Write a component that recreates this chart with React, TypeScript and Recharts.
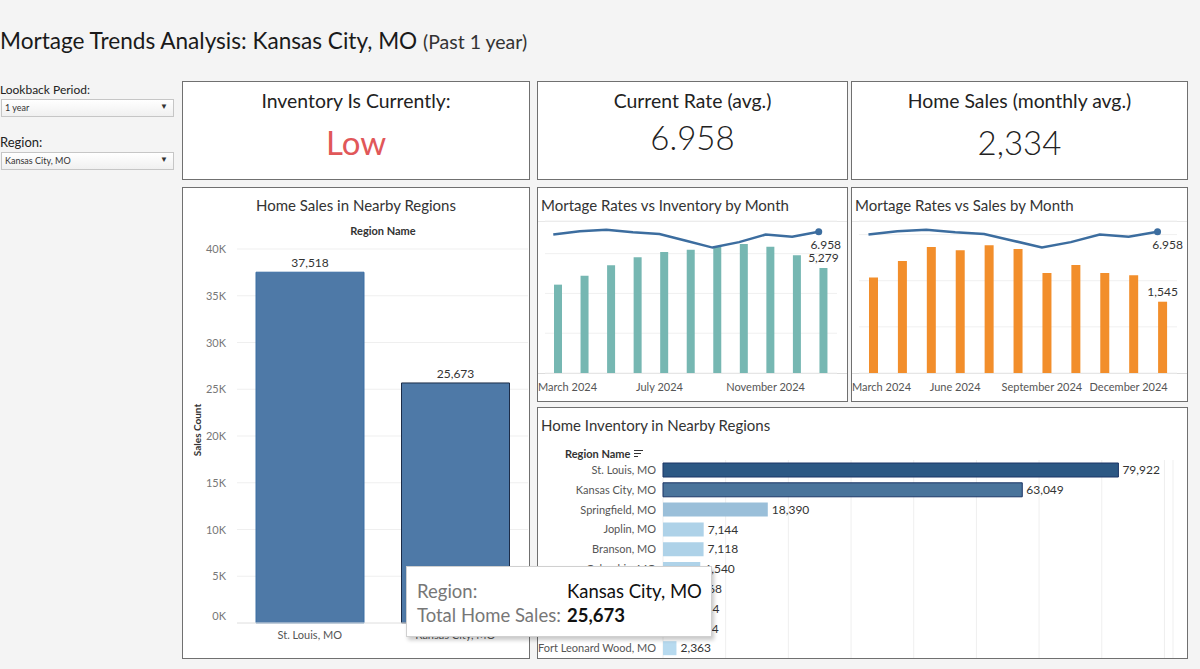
import React from "react";
import {
  Bar,
  BarChart,
  CartesianGrid,
  Cell,
  ComposedChart,
  LabelList,
  Line,
  Tooltip,
  XAxis,
  YAxis,
} from "recharts";

const FONT = "Lato, 'Noto Sans', sans-serif";
const BORDER = "1px solid #707070";

// monthly series, Kansas City, MO
const MONTHS = [
  "March 2024", "April 2024", "May 2024", "June 2024", "July 2024", "August 2024",
  "September 2024", "October 2024", "November 2024", "December 2024", "January 2025",
];
const RATES = [6.82, 6.99, 7.06, 6.93, 6.85, 6.52, 6.18, 6.45, 6.82, 6.72, 6.958];
const INVENTORY = [4441, 4894, 5413, 5815, 6084, 6201, 6335, 6486, 6352, 5916, 5279];
const MONTHLY_SALES = [2070, 2425, 2728, 2662, 2770, 2685, 2165, 2338, 2165, 2120, 1545];

// home sales by region
const SALES_REGIONS = ["St. Louis, MO", "Kansas City, MO"];
const SALES_TOTALS = [37518, 25673];
const SALES_TICKS = [0, 5000, 10000, 15000, 20000, 25000, 30000, 35000, 40000];

// inventory by region
const INV_REGIONS = [
  "St. Louis, MO", "Kansas City, MO", "Springfield, MO", "Joplin, MO", "Branson, MO",
  "Columbia, MO", "Jefferson City, MO", "Cape Girardeau, MO", "Sedalia, MO", "Fort Leonard Wood, MO",
];
const INV_TOTALS = [79922, 63049, 18390, 7144, 7118, 6540, 4268, 3824, 3704, 2363];
const INV_GRID = [11000, 22000, 33000, 44000, 55000, 66000, 77000, 88000];

const fmt = (v: number) => v.toLocaleString("en-US");

function Box({ left, top, width, height, children, z }: any) {
  return (
    <div
      style={{
        position: "absolute", left, top, width, height, background: "#fff",
        border: BORDER, zIndex: z,
      }}
    >
      {children}
    </div>
  );
}

function Kpi({ left, width, title, value, color, valueTop, weight }: any) {
  return (
    <Box left={left} top={81} width={width} height={97}>
      <div style={{ position: "absolute", top: 7, width: "100%", textAlign: "center", fontSize: 19.4, color: "#222" }}>
        {title}
      </div>
      <div style={{ position: "absolute", top: valueTop, width: "100%", textAlign: "center", fontSize: 33, color, fontWeight: weight }}>
        {value}
      </div>
    </Box>
  );
}

function Dropdown({ top, text }: any) {
  return (
    <div
      style={{
        position: "absolute", left: 1, top, width: 171, height: 16, border: "1px solid #c6c6c6",
        background: "linear-gradient(#ffffff, #f0f0f0)", fontSize: 9, color: "#333",
      }}
    >
      <span style={{ position: "absolute", left: 3, top: 2 }}>{text}</span>
      <span style={{ position: "absolute", right: 5, top: 1, fontSize: 8 }}>▼</span>
    </div>
  );
}

const SalesYTick = ({ x, y, payload }: any) => (
  <text x={x} y={payload.value === 0 ? y - 7 : y} dy={4} textAnchor="end" fill="#777" fontSize={11} fontFamily={FONT}>
    {payload.value / 1000}K
  </text>
);

const RegionTick = ({ x, y, payload }: any) => (
  <text x={x} y={y} dy={4} textAnchor="end" fill="#555" fontSize={11} fontFamily={FONT}>
    {payload.value}
  </text>
);

const SalesTip = ({ active, payload }: any) => {
  if (!active || !payload || !payload.length) return null;
  const d = payload[0].payload;
  return (
    <div
      style={{
        width: 304, height: 69, background: "#fff", border: "1px solid #d0d0d0",
        boxShadow: "2px 3px 4px rgba(0,0,0,0.22)", position: "relative", fontFamily: FONT, fontSize: 18.5,
      }}
    >
      <div style={{ position: "absolute", left: 10, top: 13, color: "#777" }}>Region:</div>
      <div style={{ position: "absolute", left: 160, top: 13, color: "#111" }}>{d.region}</div>
      <div style={{ position: "absolute", left: 10, top: 37, color: "#777" }}>Total Home Sales:</div>
      <div style={{ position: "absolute", left: 160, top: 37, color: "#111", fontWeight: 700 }}>{fmt(d.sales)}</div>
    </div>
  );
};

function SalesChart() {
  const data = SALES_REGIONS.map((r, i) => ({ region: r, sales: SALES_TOTALS[i] }));
  return (
    <Box left={182} top={187} width={346} height={470} z={5}>
      <div style={{ position: "absolute", top: 8, left: 0, width: 346, textAlign: "center", fontSize: 15, color: "#333" }}>
        Home Sales in Nearby Regions
      </div>
      <div style={{ position: "absolute", top: 36, left: 200, width: 0, whiteSpace: "nowrap", display: "flex", justifyContent: "center", fontSize: 11, fontWeight: 700, color: "#333" }}>
        Region Name
      </div>
      <div style={{ position: "absolute", left: 14 - 40, top: 243 - 7, width: 80, textAlign: "center", transform: "rotate(-90deg)", fontSize: 10, fontWeight: 700, color: "#333" }}>
        Sales Count
      </div>
      <div style={{ position: "absolute", left: 0, top: 0 }}>
        <BarChart width={346} height={470} data={data} margin={{ top: 61, right: 1, left: 0, bottom: 0 }}>
          <CartesianGrid vertical={false} stroke="#efefef" />
          <XAxis
            dataKey="region" tickLine={false} axisLine={{ stroke: "#e6e6e6" }} height={35}
            tick={{ fontSize: 11, fill: "#555", fontFamily: FONT }} tickMargin={2}
          />
          <YAxis
            domain={[0, 40000]} ticks={SALES_TICKS} width={54} tickLine={false} axisLine={false}
            tick={<SalesYTick />} tickMargin={5}
          />
          <Bar dataKey="sales" barSize={108} isAnimationActive={false}>
            {data.map((d, i) => (
              <Cell key={d.region} fill="#4e79a7" stroke={i === 1 ? "#1c2c48" : "#3b6ea3"} strokeWidth={1} />
            ))}
            <LabelList dataKey="sales" position="top" offset={5} formatter={(v: any) => fmt(v)}
              style={{ fontSize: 12, fill: "#333", fontFamily: FONT }} />
          </Bar>
          <Tooltip
            active defaultIndex={1} cursor={false} position={{ x: 223, y: 378 }}
            allowEscapeViewBox={{ x: true, y: true }} wrapperStyle={{ zIndex: 30 }}
            isAnimationActive={false} content={<SalesTip />}
          />
        </BarChart>
      </div>
    </Box>
  );
}

function MonthChart({ left, width, title, values, color, max, ticks, interval, barSize, rateDx }: any) {
  const data = MONTHS.map((m, i) => ({ month: m, rate: RATES[i], value: values[i] }));
  const last = data.length - 1;
  const MonthTick = ({ x, y, payload }: any) => {
    const first = payload.value === MONTHS[0];
    return (
      <text x={first ? 0 : x - 5} y={y} dy={10} textAnchor={first ? "start" : "middle"} fontSize={11} fill="#555" fontFamily={FONT}>
        {payload.value}
      </text>
    );
  };
  return (
    <Box left={left} top={187} width={width} height={213}>
      <div style={{ position: "absolute", left: 3, top: 8, fontSize: 15, color: "#333", whiteSpace: "nowrap" }}>{title}</div>
      <div style={{ position: "absolute", left: 0, right: 0, top: 33, borderTop: "1px solid #e8e8e8" }} />
      <div style={{ position: "absolute", left: 0, right: 0, top: 185, borderTop: "1px solid #dcdcdc" }} />
      <div style={{ position: "absolute", left: 0, top: 0 }}>
        <ComposedChart width={width} height={213} data={data} margin={{ top: 33, right: 10, left: 7, bottom: 0 }}>
          <CartesianGrid yAxisId="v" vertical={false} horizontal stroke="#f0f0f0" />
          <XAxis dataKey="month" interval={interval} tick={<MonthTick />} tickLine={false} axisLine={false} height={28} />
          <XAxis xAxisId="l" dataKey="month" hide padding={{ left: -5, right: 5 }} />
          <YAxis yAxisId="v" hide domain={[0, max]} ticks={ticks} />
          <YAxis yAxisId="r" hide domain={[0, 7.49]} />
          <Bar yAxisId="v" dataKey="value" fill={color} barSize={barSize} isAnimationActive={false}>
            <LabelList
              dataKey="value"
              content={(p: any) =>
                p.index === last ? (
                  <text x={p.x + p.width / 2} y={p.y - 6} textAnchor="middle" fontSize={12} fill="#333" fontFamily={FONT}>
                    {fmt(p.value)}
                  </text>
                ) : null
              }
            />
          </Bar>
          <Line
            yAxisId="r" xAxisId="l" dataKey="rate" stroke="#3c6d9f" strokeWidth={2.5} isAnimationActive={false}
            dot={(p: any) =>
              p.index === last ? <circle key="end" cx={p.cx} cy={p.cy} r={3.5} fill="#3c6d9f" /> : <g key={`d${p.index}`} />
            }
          >
            <LabelList
              dataKey="rate"
              content={(p: any) =>
                p.index === last ? (
                  <text x={p.x + rateDx} y={p.y + 17} textAnchor="middle" fontSize={12} fill="#333" fontFamily={FONT}>
                    {p.value.toFixed(3)}
                  </text>
                ) : null
              }
            />
          </Line>
        </ComposedChart>
      </div>
    </Box>
  );
}

function invColor(v: number) {
  const t = v / INV_TOTALS[0];
  const a = [187, 222, 242];
  const b = [44, 88, 132];
  const c = a.map((x, i) => Math.round(x + (b[i] - x) * t));
  return `rgb(${c[0]},${c[1]},${c[2]})`;
}

function InventoryChart() {
  const data = INV_REGIONS.map((r, i) => ({ region: r, inventory: INV_TOTALS[i] }));
  return (
    <Box left={537} top={407} width={649} height={250}>
      <div style={{ position: "absolute", left: 3, top: 8, fontSize: 15, color: "#333" }}>Home Inventory in Nearby Regions</div>
      <div style={{ position: "absolute", left: 27, top: 39, fontSize: 11, fontWeight: 700, color: "#333", display: "flex", alignItems: "center" }}>
        Region Name
        <span style={{ display: "inline-flex", flexDirection: "column", gap: 2, marginLeft: 4, alignItems: "flex-start" }}>
          <span style={{ width: 9, height: 1, background: "#333" }} />
          <span style={{ width: 7, height: 1, background: "#333" }} />
          <span style={{ width: 4, height: 1, background: "#333" }} />
        </span>
      </div>
      <div style={{ position: "absolute", left: 0, top: 0 }}>
        <BarChart layout="vertical" width={649} height={250} data={data} margin={{ top: 52, right: 14, left: 0, bottom: 0 }}>
          <CartesianGrid horizontal={false} stroke="#efefef" />
          <XAxis type="number" hide domain={[0, 89500]} ticks={INV_GRID} />
          <YAxis
            type="category" dataKey="region" width={125} tickLine={false} axisLine={false} tickMargin={1}
            tick={<RegionTick />} interval={0}
          />
          <Bar dataKey="inventory" barSize={14} isAnimationActive={false}>
            {data.map((d) => (
              <Cell
                key={d.region}
                fill={invColor(d.inventory)}
                stroke={d.inventory > 40000 ? "#1b3566" : "none"}
                strokeWidth={1}
              />
            ))}
            <LabelList dataKey="inventory" position="right" offset={4} formatter={(v: any) => fmt(v)}
              style={{ fontSize: 12, fill: "#333", fontFamily: FONT }} />
          </Bar>
        </BarChart>
      </div>
    </Box>
  );
}

export default function App() {
  return (
    <div style={{ position: "absolute", left: 0, top: 0, width: 1200, height: 669, background: "#f4f4f4", fontFamily: FONT, overflow: "hidden" }}>
      <div style={{ position: "absolute", left: 0, top: 27, fontSize: 22.6, color: "#1a1a1a", whiteSpace: "nowrap" }}>
        Mortage Trends Analysis: Kansas City, MO <span style={{ fontSize: 19.5, color: "#333" }}>(Past 1 year)</span>
      </div>

      <div style={{ position: "absolute", left: 0, top: 82, fontSize: 12, color: "#222" }}>Lookback Period:</div>
      <Dropdown top={99} text="1 year" />
      <div style={{ position: "absolute", left: 0, top: 134, fontSize: 13, color: "#222" }}>Region:</div>
      <Dropdown top={152} text="Kansas City, MO" />

      <Kpi left={182} width={346} title="Inventory Is Currently:" value="Low" color="#e15759" valueTop={40} weight={400} />
      <Kpi left={537} width={309} title="Current Rate (avg.)" value="6.958" color="#222" valueTop={35} weight={300} />
      <Kpi left={851} width={335} title="Home Sales (monthly avg.)" value="2,334" color="#222" valueTop={40} weight={300} />

      <SalesChart />
      <MonthChart left={537} width={309} title="Mortage Rates vs Inventory by Month" values={INVENTORY}
        color="#76b7b2" max={7640} ticks={[0, 2000, 4000, 6000]} interval={3} barSize={8} rateDx={7} />
      <MonthChart left={851} width={335} title="Mortage Rates vs Sales by Month" values={MONTHLY_SALES}
        color="#f28e2b" max={3294} ticks={[0, 1000, 2000, 3000]} interval={2} barSize={9} rateDx={10} />
      <InventoryChart />
    </div>
  );
}
